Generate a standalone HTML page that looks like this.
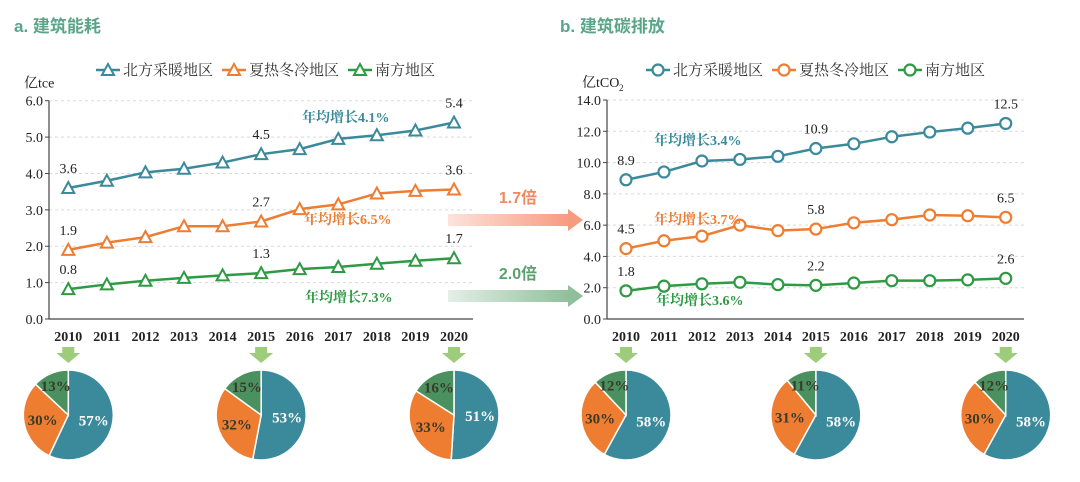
<!DOCTYPE html>
<html><head><meta charset="utf-8"><style>
body{margin:0;background:#fff;}
svg{display:block;font-family:"Liberation Serif","Noto Serif CJK SC",serif;}
.cjk{font-family:"Liberation Sans","Noto Sans CJK SC",sans-serif;}
</style></head><body>
<svg id="c" width="1080" height="482" viewBox="0 0 1080 482" xmlns="http://www.w3.org/2000/svg">
<defs>
<linearGradient id="gp" x1="0" x2="1"><stop offset="0" stop-color="#fde3dc"/><stop offset="1" stop-color="#f79a7e"/></linearGradient>
<linearGradient id="gg" x1="0" x2="1"><stop offset="0" stop-color="#e4efe6"/><stop offset="1" stop-color="#8fbf9b"/></linearGradient>
</defs>
<text x="14" y="32" class="cjk" font-size="17" font-weight="bold" fill="#5aa58a">a. 建筑能耗</text>
<text x="560" y="32" class="cjk" font-size="17" font-weight="bold" fill="#5aa58a">b. 建筑碳排放</text>
<g>
<rect x="448" y="214" width="122" height="12" fill="url(#gp)"/><polygon points="568,209 583,220 568,231" fill="#f79a7e"/></g>
<text x="518" y="203" text-anchor="middle" class="cjk" font-size="16" font-weight="bold" fill="#ef8a5e">1.7倍</text>
<g>
<rect x="448" y="290" width="122" height="12" fill="url(#gg)"/><polygon points="568,285 583,296 568,307" fill="#8fbf9b"/></g>
<text x="518" y="279" text-anchor="middle" class="cjk" font-size="16" font-weight="bold" fill="#5f9e6e">2.0倍</text>
</svg>
<script>
const years=[2010,2011,2012,2013,2014,2015,2016,2017,2018,2019,2020];
const seriesNames=["北方采暖地区","夏热冬冷地区","南方地区"];
const colors=["#3a8a9c","#ee7d31","#2e9a44"];
const energyNorth=[3.6,3.8,4.03,4.13,4.3,4.53,4.67,4.95,5.05,5.18,5.4];
const energyHSCW=[1.9,2.1,2.25,2.55,2.55,2.68,3.02,3.15,3.45,3.52,3.56];
const energySouth=[0.82,0.95,1.05,1.13,1.2,1.26,1.37,1.43,1.52,1.6,1.67];
const energyLabels=[["3.6","4.5","5.4"],["1.9","2.7","3.6"],["0.8","1.3","1.7"]];
const energyTicks=[0,1,2,3,4,5,6];
const carbonNorth=[8.9,9.4,10.1,10.2,10.4,10.9,11.2,11.65,11.95,12.2,12.5];
const carbonHSCW=[4.5,5.0,5.3,6.0,5.65,5.75,6.15,6.35,6.65,6.6,6.5];
const carbonSouth=[1.8,2.1,2.25,2.35,2.2,2.15,2.3,2.45,2.45,2.5,2.6];
const carbonLabels=[["8.9","10.9","12.5"],["4.5","5.8","6.5"],["1.8","2.2","2.6"]];
const carbonTicks=[0,2,4,6,8,10,12,14];
const energyGrowth=["年均增长4.1%","年均增长6.5%","年均增长7.3%"];
const carbonGrowth=["年均增长3.4%","年均增长3.7%","年均增长3.6%"];
const energyShares=[[57,30,13],[53,32,15],[51,33,16]];
const carbonShares=[[58,30,12],[58,31,11],[58,30,12]];
const pieColors=["#3a8a9c","#ee7d31","#4b9160"];

const svg=document.getElementById('c');const NS="http://www.w3.org/2000/svg";
function el(t,a,p){const e=document.createElementNS(NS,t);for(const k in a)e.setAttribute(k,a[k]);(p||svg).appendChild(e);return e;}
function txt(s,a,p){const e=el('text',a,p);e.textContent=s;return e;}

function chart(cfg){
 const g=el('g',{});
 
 
 const xs=i=>cfg.x0+(cfg.x1-cfg.x0)*i/(years.length-1);
 const ys=v=>cfg.yb-(cfg.yb-cfg.yt)*v/cfg.max;
 cfg.ticks.forEach(t=>{
  if(t>0){const l=el('line',{x1:cfg.ax,x2:cfg.ar,y1:ys(t),y2:ys(t),stroke:'#d9d9d9','stroke-dasharray':'3,3'},g);}
  const tl=txt(t.toFixed(1),{x:cfg.ax-6,y:ys(t)+5,'text-anchor':'end','font-size':14,fill:'#222'},g);
  
  el('line',{x1:cfg.ax-4,x2:cfg.ax,y1:ys(t),y2:ys(t),stroke:'#444'},g);
 });
 const ya=el('line',{x1:cfg.ax,x2:cfg.ax,y1:cfg.yt,y2:cfg.yb,stroke:'#444','stroke-width':1.2},g);
 const xa=el('line',{x1:cfg.ax,x2:cfg.ar,y1:cfg.yb,y2:cfg.yb,stroke:'#444','stroke-width':1.2},g);
 years.forEach((y,i)=>{const t=txt(y,{x:xs(i),y:cfg.yb+22,'text-anchor':'middle','font-size':14,'font-weight':'bold',fill:'#222'},g);});
 const ut=txt(cfg.unit,{x:cfg.ax-25,y:cfg.yt-13,'font-size':14,fill:'#222'},g);
 if(cfg.sub){const s=txt('2',{x:cfg.ax+12,y:cfg.yt-9,'font-size':9,fill:'#222'},g);}
 seriesNames.forEach((n,k)=>{
  const lx=cfg.lx+k*126;const lg=el('g',{},g);
  
  el('line',{x1:lx,x2:lx+24,y1:70,y2:70,stroke:colors[k],'stroke-width':2.5},lg);
  marker(lg,lx+12,70,colors[k],cfg.tri);
  txt(n,{x:lx+27,y:75,'font-size':15,fill:'#333'},lg);
 });
 cfg.series.forEach((d,k)=>{
  const pts=d.map((v,i)=>xs(i)+','+ys(v)).join(' ');
  const pl=el('polyline',{points:pts,fill:'none',stroke:colors[k],'stroke-width':2.5},g);
  
  d.forEach((v,i)=>{const m=marker(g,xs(i),ys(v),colors[k],cfg.tri);});
  [0,5,10].forEach((i,j)=>{const t=txt(cfg.labels[k][j],{x:xs(i),y:ys(d[i])-15,'text-anchor':'middle','font-size':14,fill:'#222'},g);});
  const gp=cfg.growthPos[k];
  const gt=txt(cfg.growth[k],{x:gp[0],y:gp[1],'font-size':14,'font-weight':'bold',fill:colors[k]},g);
  
 });
 cfg.shares.forEach((sh,p)=>{
  const idx=[0,5,10][p];const cx=xs(idx),cy=415,r=45;
  const ar=el('polygon',{points:`${cx-6},347 ${cx+6},347 ${cx+6},353 ${cx+12},353 ${cx},363 ${cx-12},353 ${cx-6},353`,fill:'#9dcc7a'},g);
  
  const pg=el('g',{},g);
  let a0=-Math.PI/2;
  sh.forEach((v,k)=>{
   const tot=sh.reduce((a,b)=>a+b,0);const a1=a0+2*Math.PI*v/tot;
   const x0=cx+r*Math.cos(a0),y0=cy+r*Math.sin(a0),x1=cx+r*Math.cos(a1),y1=cy+r*Math.sin(a1);
   const s=el('path',{d:`M${cx},${cy}L${x0},${y0}A${r},${r} 0 ${a1-a0>Math.PI?1:0} 1 ${x1},${y1}Z`,fill:pieColors[k],stroke:'#fff','stroke-width':1.5},pg);
   
   const am=(a0+a1)/2;const rr=k==2?0.7:0.58;
   const t=txt(v+'%',{x:cx+rr*r*Math.cos(am),y:cy+rr*r*Math.sin(am)+5,'text-anchor':'middle','font-size':15,'font-weight':'bold',fill:k==0?'#fff':'#3a3a2a'},pg);
   
   a0=a1;
  });
 });
}
function marker(p,x,y,c,tri){
 if(tri) return el('polygon',{points:`${x},${y-6} ${x+6},${y+5} ${x-6},${y+5}`,fill:'#fff',stroke:c,'stroke-width':2},p);
 return el('circle',{cx:x,cy:y,r:5.5,fill:'#fff',stroke:c,'stroke-width':2.2},p);
}
chart({name:'energy-chart',x0:68.3,x1:454,ax:49,ar:473,yt:100.7,yb:319,max:6,ticks:energyTicks,unit:'亿tce',series:[energyNorth,energyHSCW,energySouth],labels:energyLabels,growth:energyGrowth,growthPos:[[302,122],[304,224],[305,302]],shares:energyShares,lx:96,tri:true});
chart({name:'carbon-chart',x0:626,x1:1005.7,ax:607,ar:1024,yt:100,yb:319,max:14,ticks:carbonTicks,unit:'亿tCO',sub:true,series:[carbonNorth,carbonHSCW,carbonSouth],labels:carbonLabels,growth:carbonGrowth,growthPos:[[654,145],[654,224],[656,305]],shares:carbonShares,lx:646,tri:false});
</script>
</body></html>
